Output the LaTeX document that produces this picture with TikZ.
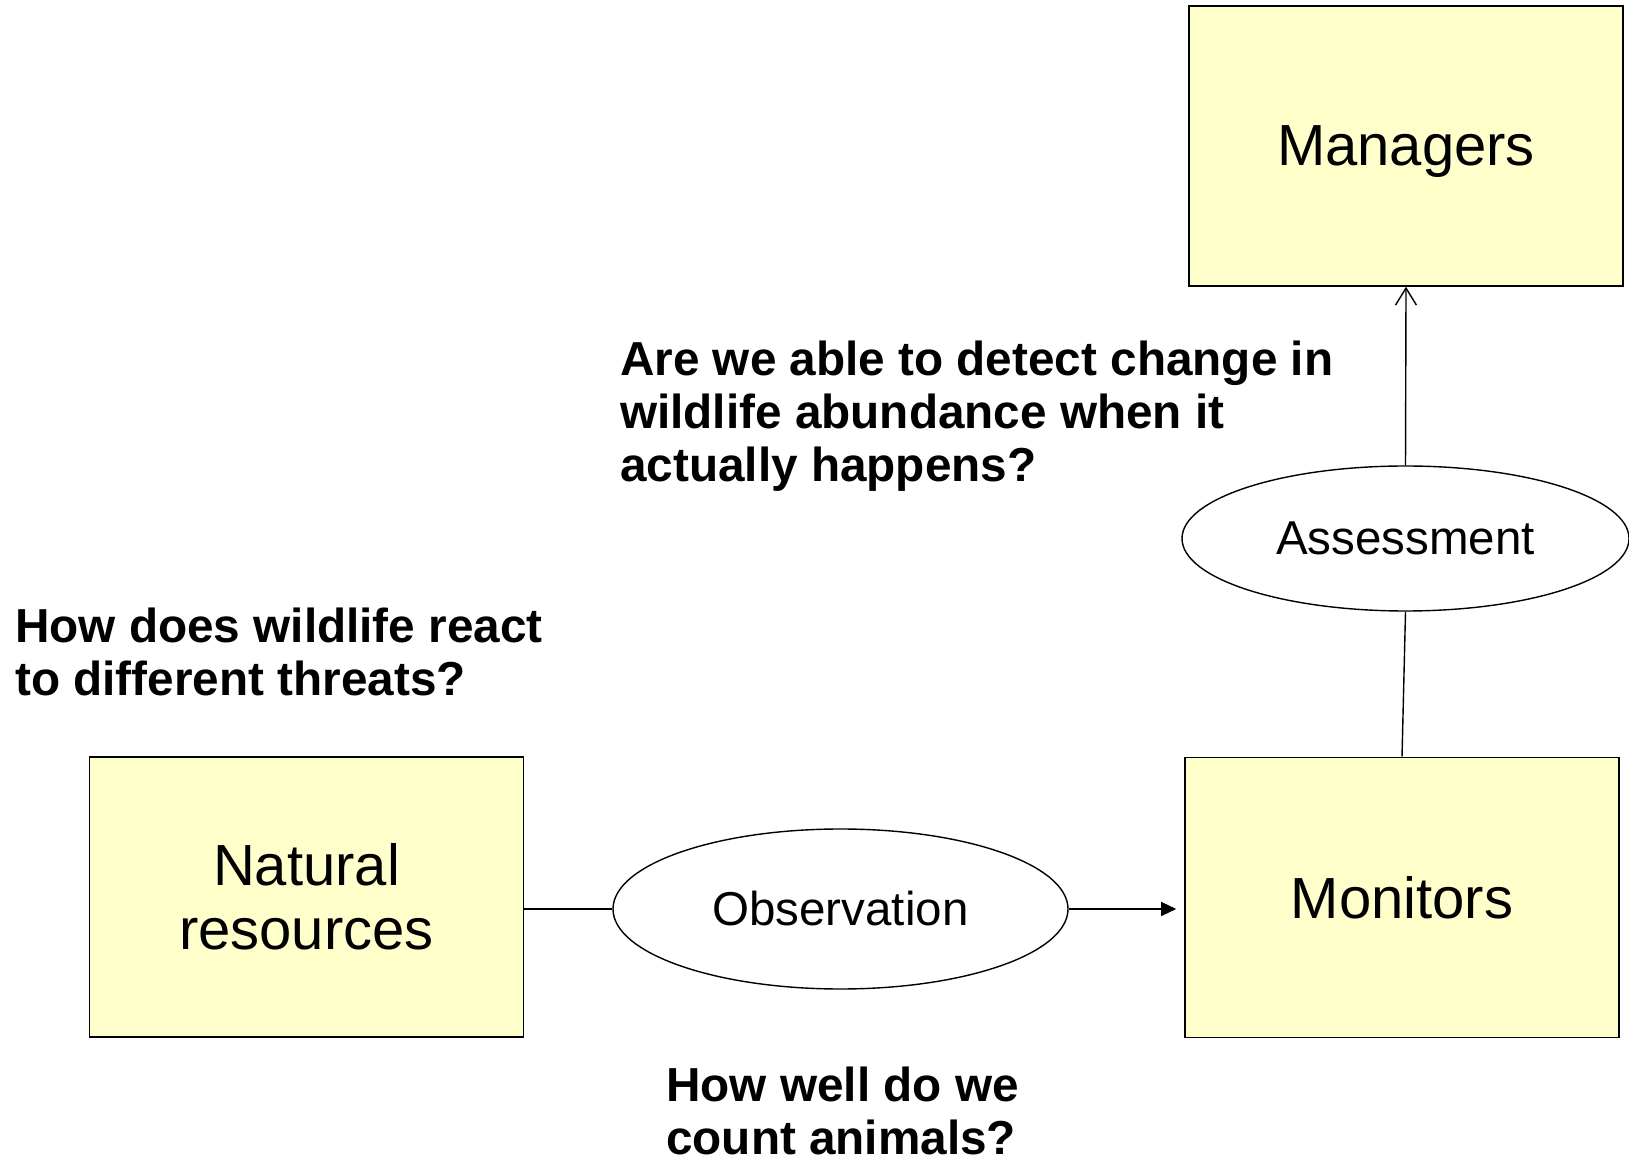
\documentclass[tikz,border=0pt]{standalone}
\usepackage{fontspec}
\setmainfont{Liberation Sans}
\usetikzlibrary{arrows.meta,shapes.geometric,positioning,calc}
\definecolor{boxyellow}{HTML}{FFFFCC}

\begin{document}
\begin{tikzpicture}[
    x=1pt, y=1pt,
    box/.style={draw, line width=1.6pt, fill=boxyellow, minimum width=434pt, minimum height=280pt, align=center, inner sep=0pt, font=\fontsize{58}{64}\selectfont},
    oval/.style={draw, ellipse, line width=1.4pt, inner sep=0pt, font=\fontsize{47.5}{52}\selectfont},
    question/.style={align=left, anchor=base west, inner sep=0pt, font=\bfseries\fontsize{47.7}{53}\selectfont},
    link/.style={line width=1.4pt},
    arr/.style={link, -{Triangle[length=15pt, width=14pt]}},
    openarr/.style={link, -{Straight Barb[length=17pt, width=21pt]}}
]
\useasboundingbox (0,0) rectangle (1629,1162);

\node[box, text depth=0pt] (managers) at (1406,1016) {Managers};
\node[box] (resources) at (306.5,265) {Natural\\resources};
\node[box, text depth=0pt] (monitors) at (1402,264.5) {Monitors};
\node[oval, minimum width=455pt, minimum height=160pt] (observe) at (840.5,253) {Observation};
\node[oval, minimum width=447pt, minimum height=145pt] (assess) at (1405.5,623.5) {Assessment};

% base anchor sits on the last line
\node[question] (qdetect) at (620,680) {Are we able to detect change in\\wildlife abundance when it\\actually happens?};
\node[question] (qreact) at (15,466) {How does wildlife react\\to different threats?};
\node[question] (qcount) at (666,8) {How well do we\\count animals?};

\draw[link] (resources.east |- observe.west) -- (observe.west);
\draw[arr, shorten >=8pt] (observe.east) -- (observe.east -| monitors.west);
\draw[link] (monitors.north) -- (assess.south);
\draw[openarr] (assess.north) -- (managers.south);
\end{tikzpicture}
\end{document}
